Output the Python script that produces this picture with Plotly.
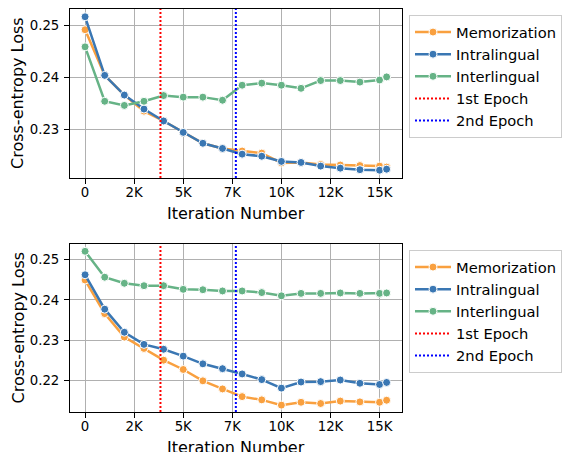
import plotly.graph_objects as go

# ---------------- data ----------------
iterations = [0, 1000, 2000, 3000, 4000, 5000, 6000, 7000, 8000, 9000,
              10000, 11000, 12000, 13000, 14000, 15000, 15360]

top_memorization = [0.2492, 0.2404, 0.2366, 0.2335, 0.2316, 0.2294, 0.2273, 0.2263, 0.2258,
                    0.2254, 0.2235, 0.2236, 0.2232, 0.2231, 0.2230, 0.2229, 0.2227]
top_intralingual = [0.2517, 0.2404, 0.2366, 0.2339, 0.2316, 0.2294, 0.2273, 0.2263, 0.2252,
                    0.2248, 0.2238, 0.2236, 0.2229, 0.2225, 0.2222, 0.2221, 0.2223]
top_interlingual = [0.2459, 0.2354, 0.2346, 0.2354, 0.2365, 0.2362, 0.2362, 0.2356, 0.2385,
                    0.2389, 0.2385, 0.2379, 0.2394, 0.2394, 0.2391, 0.2395, 0.2401]

bot_memorization = [0.2449, 0.2366, 0.2308, 0.2280, 0.2251, 0.2228, 0.2200, 0.2180, 0.2161,
                    0.2153, 0.2140, 0.2147, 0.2144, 0.2150, 0.2148, 0.2147, 0.2152]
bot_intralingual = [0.2462, 0.2377, 0.2320, 0.2290, 0.2278, 0.2261, 0.2242, 0.2230, 0.2217,
                    0.2203, 0.2182, 0.2197, 0.2198, 0.2202, 0.2194, 0.2191, 0.2196]
bot_interlingual = [0.2520, 0.2456, 0.2441, 0.2435, 0.2435, 0.2426, 0.2425, 0.2422, 0.2422,
                    0.2418, 0.2410, 0.2416, 0.2416, 0.2417, 0.2416, 0.2416, 0.2417]

epoch_marks = [3840, 7680]
epoch_names = ["1st Epoch", "2nd Epoch"]

x_tick_vals = [0, 2500, 5000, 7500, 10000, 12500, 15000]
x_tick_text = ["0", "2K", "5K", "7K", "10K", "12K", "15K"]
top_y_ticks = [0.23, 0.24, 0.25]
bot_y_ticks = [0.22, 0.23, 0.24, 0.25]

series_names = ["Memorization", "Intralingual", "Interlingual"]
series_colors = ["#f9a03f", "#3a77b3", "#66b386"]
epoch_colors = ["red", "blue"]

x_title = "Iteration Number"
y_title = "Cross-entropy Loss"

# ---------------- figure ----------------
FONT = "DejaVu Sans"
W, H = 563, 452
fig = go.Figure()

panels = [
    (("x", "y"), "legend", [top_memorization, top_intralingual, top_interlingual]),
    (("x2", "y2"), "legend2", [bot_memorization, bot_intralingual, bot_interlingual]),
]

for (xa, ya), leg, series in panels:
    for name, color, vals in zip(series_names, series_colors, series):
        fig.add_trace(go.Scatter(
            x=iterations, y=vals, name=name, mode="lines+markers",
            xaxis=xa, yaxis=ya, legend=leg,
            line=dict(color=color, width=2.5),
            marker=dict(size=8, color=color, line=dict(color="white", width=1)),
        ))
    for xv, nm, col in zip(epoch_marks, epoch_names, epoch_colors):
        fig.add_shape(
            type="line", xref=xa, yref=f"{ya} domain", x0=xv, x1=xv, y0=0, y1=1,
            line=dict(color=col, width=2, dash="2px,2px"),
            showlegend=True, name=nm, legend=leg, layer="above",
        )

x_dom = [70 / W, 401.7 / W]
x_range = [-768, 16128]
top_dom = [1 - 178 / H, 1 - 9 / H]
bot_dom = [1 - 412 / H, 1 - 244 / H]

axis_common = dict(
    showline=True, linecolor="black", linewidth=1, mirror=True,
    ticks="outside", ticklen=5, tickcolor="black", tickwidth=1,
    showgrid=True, gridcolor="#b0b0b0", gridwidth=1, zeroline=False,
    tickfont=dict(family=FONT, size=13.3, color="black"),
)

legend_common = dict(
    xanchor="left", yanchor="top", bgcolor="white", bordercolor="#cccccc",
    borderwidth=1, itemwidth=36, font=dict(family=FONT, size=14.7, color="black"),
)

fig.update_layout(
    width=W, height=H,
    margin=dict(l=0, r=0, t=0, b=0),
    paper_bgcolor="white", plot_bgcolor="white",
    font=dict(family=FONT, color="black"),
    xaxis=dict(domain=x_dom, anchor="y", range=x_range, tickvals=x_tick_vals,
               ticktext=x_tick_text, ticklabelstandoff=-3, **axis_common),
    yaxis=dict(domain=top_dom, anchor="x", range=[0.2206, 0.2532],
               tickvals=top_y_ticks, tickformat=".2f", ticklabelstandoff=2, **axis_common),
    xaxis2=dict(domain=x_dom, anchor="y2", range=x_range, tickvals=x_tick_vals,
                ticktext=x_tick_text, ticklabelstandoff=-3, **axis_common),
    yaxis2=dict(domain=bot_dom, anchor="x2", range=[0.2123, 0.2538],
                tickvals=bot_y_ticks, tickformat=".2f", ticklabelstandoff=2, **axis_common),
    legend=dict(x=409 / W, y=1 - 15 / H, **legend_common),
    legend2=dict(x=409 / W, y=1 - 250 / H, **legend_common),
)

# axis titles as annotations for exact placement
x_mid = (x_dom[0] + x_dom[1]) / 2
for ypix in [213.5, 447.5]:
    fig.add_annotation(text=x_title, xref="paper", yref="paper", x=x_mid, y=1 - ypix / H,
                       xanchor="center", yanchor="middle", showarrow=False,
                       font=dict(family=FONT, size=16, color="black"))
for dom in [top_dom, bot_dom]:
    fig.add_annotation(text=y_title, xref="paper", yref="paper", x=17.5 / W,
                       y=(dom[0] + dom[1]) / 2, textangle=-90,
                       xanchor="center", yanchor="middle", showarrow=False,
                       font=dict(family=FONT, size=16, color="black"))

fig.write_html("out.html")
